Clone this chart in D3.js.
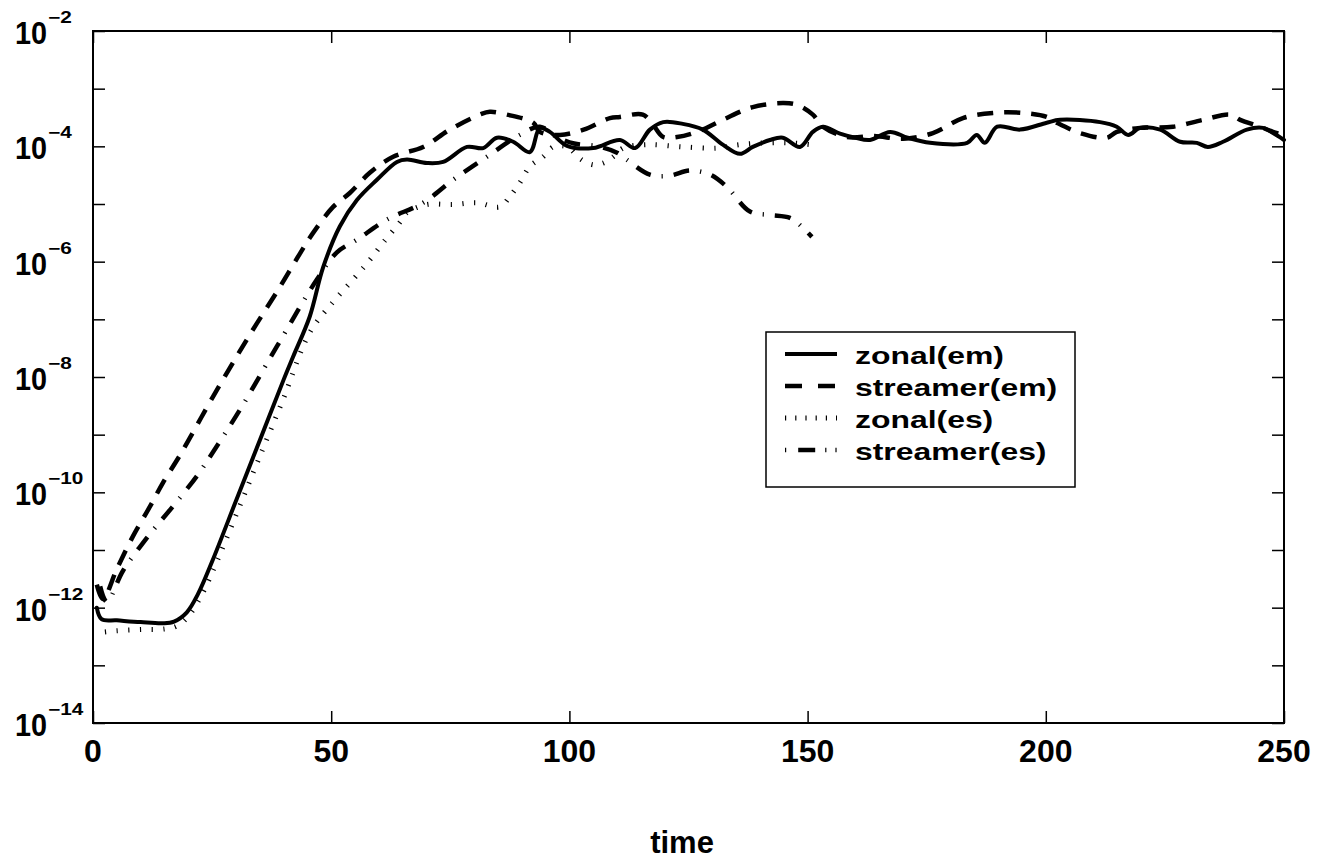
<!DOCTYPE html>
<html>
<head>
<meta charset="utf-8">
<script src="https://cdn.jsdelivr.net/npm/d3@7"></script>
<style>
  html, body { margin: 0; padding: 0; background: #fff; }
  svg { display: block; }
  text { font-family: "Liberation Sans", Arial, Helvetica, sans-serif; font-weight: bold; fill: #000; }
</style>
</head>
<body>
<svg id="chart" width="1323" height="867"></svg>
<script>
// ---------------- DATA ----------------
const xTicks = [0, 50, 100, 150, 200, 250];
const yTickExponents = [-14, -13, -12, -11, -10, -9, -8, -7, -6, -5, -4, -3, -2];
const yLabelExponents = [-14, -12, -10, -8, -6, -4, -2];
const xLabel = "time";
const seriesNames = ["zonal(em)", "streamer(em)", "zonal(es)", "streamer(es)"];

const zonalEmTime = [0.8, 1.8, 5, 10, 14.7, 17, 19.7, 22, 25, 30, 35, 40, 42, 45.5, 48.3, 51.8, 55.4, 59.6, 63.8,
  65.9, 70.1, 73.5, 78.5, 81.9, 84.8, 88.2, 91.7, 93.8, 95.9, 99.5, 105, 110.6, 113.8, 116.9, 119.7, 123.8, 128, 132.2, 135.8,
  138.5, 142.1, 144.8, 148.4, 151.1, 153.2, 156.8, 160, 163.1, 167.3, 171, 175.7, 183.5, 185.5, 187.2, 189.8, 194.6, 200.2, 203, 211.4,
  214.9, 217.3, 219.8, 224, 228.2, 231.7, 234, 237.2, 242.2, 245.6, 247.7, 250];
const zonalEmValue = [1.0e-12, 6.31e-13, 6.03e-13, 5.62e-13, 5.37e-13, 5.75e-13, 8.32e-13, 1.70e-12, 6.31e-12, 7.08e-11, 7.94e-10, 8.91e-9, 2.24e-8, 1.12e-7, 7.94e-7, 4.07e-6, 1.17e-5, 2.63e-5, 5.37e-5,
  5.89e-5, 5.13e-5, 5.37e-5, 9.77e-5, 9.33e-5, 1.41e-4, 1.20e-4, 7.94e-5, 2.09e-4, 1.78e-4, 1.02e-4, 9.33e-5, 1.29e-4, 9.33e-5, 1.95e-4, 2.63e-4, 2.45e-4, 1.95e-4, 1.07e-4, 7.41e-5,
  9.77e-5, 1.29e-4, 1.41e-4, 9.77e-5, 1.78e-4, 2.19e-4, 1.66e-4, 1.41e-4, 1.29e-4, 1.78e-4, 1.41e-4, 1.15e-4, 1.15e-4, 1.58e-4, 1.15e-4, 2.19e-4, 1.95e-4, 2.57e-4, 2.88e-4, 2.63e-4,
  2.19e-4, 1.58e-4, 2.09e-4, 1.95e-4, 1.20e-4, 1.15e-4, 9.77e-5, 1.20e-4, 1.95e-4, 2.09e-4, 1.70e-4, 1.29e-4];

const streamerEmTime = [0.8, 2.1, 5, 8.4, 12, 14.7, 18.3, 25.2, 32.3, 39.3, 43.5, 46.2, 50.4, 53.9, 58.1, 63, 69.3, 74.9, 81.2, 83.3,
  86.9, 92.4, 93.8, 98, 103, 108.5, 110.6, 115.4, 117.6, 119.7, 122.6, 126.8, 132.2, 138.5, 144.8, 147.8, 151.1, 153.2, 158.3, 164,
  170, 176.3, 182.6, 188.9, 195.2, 200.2, 202.3, 207.2, 212.8, 214.9, 219.8, 226.7, 233, 238.7, 240.8, 245, 247.7, 250];
const streamerEmValue = [2.51e-12, 1.41e-12, 4.68e-12, 1.74e-11, 5.75e-11, 1.48e-10, 4.47e-10, 4.57e-9, 4.47e-8, 3.72e-7, 1.41e-6, 3.16e-6, 8.91e-6, 1.55e-5, 3.47e-5, 6.61e-5, 9.77e-5, 1.95e-4, 3.55e-4, 3.98e-4,
  3.55e-4, 2.57e-4, 1.78e-4, 1.58e-4, 1.95e-4, 3.09e-4, 3.24e-4, 3.55e-4, 2.34e-4, 1.45e-4, 1.45e-4, 1.78e-4, 2.88e-4, 4.79e-4, 5.62e-4, 5.25e-4, 3.55e-4, 2.19e-4, 1.45e-4, 1.51e-4,
  1.35e-4, 1.70e-4, 3.09e-4, 3.80e-4, 3.80e-4, 3.24e-4, 2.57e-4, 1.70e-4, 1.41e-4, 1.78e-4, 2.09e-4, 2.19e-4, 2.88e-4, 3.55e-4, 2.88e-4, 2.19e-4, 1.78e-4, 1.58e-4];

const zonalEsTime = [2.5, 5, 10, 15, 17.6, 20, 23, 26, 30, 34.4, 39.9, 45.5, 50.4, 54.6, 58.1, 60.9, 64.4, 65.9, 70.1, 75.6,
  80.6, 85.4, 87.5, 89.6, 91.7, 94.5, 96.6, 99.5, 102.5, 105, 107.1, 109.2, 111.3, 116.3, 123.8, 131, 135.8, 141.5, 146.3, 150.5];
const zonalEsValue = [3.80e-13, 3.98e-13, 4.17e-13, 4.27e-13, 4.79e-13, 7.08e-13, 1.78e-12, 6.31e-12, 3.98e-11, 3.16e-10, 4.07e-9, 5.89e-8, 2.0e-7, 4.90e-7, 1.07e-6, 2.14e-6, 4.79e-6, 7.08e-6, 9.77e-6, 9.77e-6,
  1.05e-5, 8.91e-6, 1.35e-5, 2.34e-5, 4.47e-5, 6.61e-5, 9.77e-5, 9.77e-5, 5.89e-5, 4.79e-5, 5.13e-5, 6.61e-5, 9.33e-5, 1.07e-4, 9.77e-5, 9.33e-5, 1.07e-4, 1.15e-4, 1.15e-4, 1.07e-4];

const streamerEsTime = [1.5, 2.9, 6.3, 11.3, 16.8, 21.8, 25.2, 30.9, 38.6, 47, 51.2, 55.4, 61.7, 69.3, 75.6, 82.7, 89.6, 93.8, 97.4, 101,
  106, 110, 112, 116.9, 121, 125.3, 129.5, 133, 137.9, 142.1, 146.3, 149, 150.9];
const streamerEsValue = [2.34e-12, 1.26e-12, 4.37e-12, 1.62e-11, 5.75e-11, 1.91e-10, 5.01e-10, 2.75e-9, 3.39e-8, 4.90e-7, 1.45e-6, 2.40e-6, 5.37e-6, 1.05e-5, 2.63e-5, 6.61e-5, 1.58e-4, 2.19e-4, 1.45e-4, 1.12e-4,
  1.0e-4, 7.76e-5, 5.89e-5, 3.24e-5, 3.09e-5, 3.80e-5, 3.24e-5, 2.0e-5, 7.41e-6, 6.46e-6, 5.75e-6, 3.89e-6, 2.69e-6];

// ---------------- LAYOUT ----------------
const svg = d3.select("#chart");
const plot = { left: 93, top: 31, right: 1284, bottom: 723 };

const x = d3.scaleLinear().domain([0, 250]).range([plot.left, plot.right]);
const y = d3.scaleLog().domain([1e-14, 1e-2]).range([plot.bottom, plot.top]);

const series = [
  { name: seriesNames[0], t: zonalEmTime, v: zonalEmValue, width: 4, dash: null, legendDash: null },
  { name: seriesNames[1], t: streamerEmTime, v: streamerEmValue, width: 4.5, dash: "16,11", legendDash: "17,16" },
  { name: seriesNames[2], t: zonalEsTime, v: zonalEsValue, width: 5, dash: "1.2,10.5", legendDash: "1.2,9" },
  { name: seriesNames[3], t: streamerEsTime, v: streamerEsValue, width: 4.5, dash: "16,11,1.2,11", legendDash: "1.2,12,17,10,1.2,9" }
];

// Frame
svg.append("rect")
  .attr("x", plot.left).attr("y", plot.top)
  .attr("width", plot.right - plot.left).attr("height", plot.bottom - plot.top)
  .attr("fill", "none").attr("stroke", "#000").attr("stroke-width", 2);

const tickLen = 12;
const xAxisBottom = d3.axisBottom(x).tickValues(xTicks).tickSize(-tickLen).tickFormat("");
const xAxisTop = d3.axisTop(x).tickValues(xTicks).tickSize(-tickLen).tickFormat("");
const yVals = yTickExponents.map(e => Math.pow(10, e));
const yAxisLeft = d3.axisLeft(y).tickValues(yVals).tickSize(-tickLen).tickFormat("");
const yAxisRight = d3.axisRight(y).tickValues(yVals).tickSize(-tickLen).tickFormat("");

function styleAxis(g) {
  g.select(".domain").remove();
  g.selectAll(".tick line").attr("stroke", "#000").attr("stroke-width", 1.5);
}
svg.append("g").attr("transform", `translate(0,${plot.bottom})`).call(xAxisBottom).call(styleAxis);
svg.append("g").attr("transform", `translate(0,${plot.top})`).call(xAxisTop).call(styleAxis);
svg.append("g").attr("transform", `translate(${plot.left},0)`).call(yAxisLeft).call(styleAxis);
svg.append("g").attr("transform", `translate(${plot.right},0)`).call(yAxisRight).call(styleAxis);

// X tick labels
svg.append("g").selectAll("text").data(xTicks).join("text")
  .attr("x", d => x(d)).attr("y", plot.bottom + 39)
  .attr("text-anchor", "middle").attr("font-size", 32)
  .text(d => d);

// Y tick labels: 10 with superscript exponent
const yl = svg.append("g").selectAll("g").data(yLabelExponents).join("g");
yl.append("text")
  .attr("transform", d => `translate(47,${y(Math.pow(10, d)) + 13}) scale(0.9,1)`)
  .attr("text-anchor", "end").attr("font-size", 32)
  .text("10");
yl.append("text")
  .attr("transform", d => `translate(48,${y(Math.pow(10, d)) - 8}) scale(1.3,1)`)
  .attr("font-size", 16)
  .text(d => "\u2212" + Math.abs(d));

// X label
svg.append("text").attr("x", 682).attr("y", 853)
  .attr("text-anchor", "middle").attr("font-size", 31).text(xLabel);

// Lines
const line = d3.line()
  .x(d => x(d[0])).y(d => y(d[1]))
  .curve(d3.curveCatmullRom.alpha(0.5));

series.forEach(s => {
  const pts = s.t.map((t, i) => [t, s.v[i]]);
  svg.append("path")
    .datum(pts)
    .attr("d", line)
    .attr("fill", "none")
    .attr("stroke", "#000")
    .attr("stroke-width", s.width)
    .attr("stroke-linejoin", "round")
    .attr("stroke-linecap", s.dash ? "butt" : "round")
    .attr("stroke-dasharray", s.dash);
});

// Legend
const lg = { x: 766, y: 332, w: 309, h: 155 };
svg.append("rect").attr("x", lg.x).attr("y", lg.y).attr("width", lg.w).attr("height", lg.h)
  .attr("fill", "#fff").attr("stroke", "#000").attr("stroke-width", 1.5);
const rowBase = [364, 396, 428, 460];
series.forEach((s, i) => {
  svg.append("line")
    .attr("x1", 785).attr("x2", 837)
    .attr("y1", rowBase[i] - 10).attr("y2", rowBase[i] - 10)
    .attr("stroke", "#000").attr("stroke-width", s.width)
    .attr("stroke-dasharray", s.legendDash);
  svg.append("text")
    .attr("transform", `translate(855,${rowBase[i]}) scale(1.33,1)`)
    .attr("font-size", 24)
    .text(s.name);
});
</script>
</body>
</html>
